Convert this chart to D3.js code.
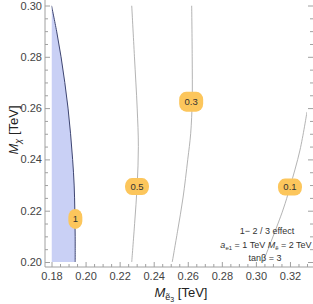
<!DOCTYPE html>
<html>
<head>
<meta charset="utf-8">
<script src="https://cdn.jsdelivr.net/npm/d3@7"></script>
<style>
  body { margin: 0; background: #fff; }
  svg { display: block; font-family: "Liberation Sans", Arial, sans-serif; }
</style>
</head>
<body>
<script>
// contour values and the points, [M_e3, M_chi] in TeV
const levels = [1, 0.5, 0.3, 0.1];
const contour1 = [[0.1800, 0.300], [0.1830, 0.290], [0.1856, 0.280], [0.1878, 0.270], [0.1897, 0.260],
  [0.1912, 0.250], [0.1924, 0.240], [0.1933, 0.230], [0.1937, 0.220], [0.1939, 0.210], [0.1939, 0.200]];
const contour05 = [[0.2271, 0.300], [0.2287, 0.280], [0.2303, 0.260], [0.2310, 0.245],
  [0.2303, 0.230], [0.2288, 0.215], [0.2271, 0.200]];
const contour03 = [[0.2623, 0.300], [0.2626, 0.280], [0.2626, 0.263], [0.2617, 0.250],
  [0.2600, 0.240], [0.2572, 0.225], [0.2540, 0.212], [0.2509, 0.200]];
const contour01 = [[0.3300, 0.2585], [0.3259, 0.2437], [0.3200, 0.2292], [0.3159, 0.2203], [0.3042, 0.200]];
const contours = [contour1, contour05, contour03, contour01];
// label positions on the contours
const labelPos = [[0.1940, 0.2168], [0.2302, 0.2294], [0.2620, 0.2625], [0.3200, 0.2292]];

const xTicks = [0.18, 0.20, 0.22, 0.24, 0.26, 0.28, 0.30, 0.32];
const yTicks = [0.20, 0.22, 0.24, 0.26, 0.28, 0.30];
const notes = ["1\u2212 2 / 3  effect", "tan\u03b2 = 3"];

var width = 313, height = 304;
var svg = d3.select("body").append("svg").attr("width", width).attr("height", height);

var x = d3.scaleLinear().domain([0.18, 0.33]).range([51.5, 307]);
var y = d3.scaleLinear().domain([0.20, 0.30]).range([262, 5.5]);

svg.append("clipPath").attr("id", "clip").append("rect")
  .attr("x", x(0.18)).attr("y", y(0.30)).attr("width", x(0.33) - x(0.18)).attr("height", y(0.20) - y(0.30));

var plot = svg.append("g").attr("clip-path", "url(#clip)");
var line = d3.line().x(d => x(d[0])).y(d => y(d[1])).curve(d3.curveCatmullRom);

// shaded region left of the "1" contour
var area = [[0.18, 0.20]].concat(contour1.slice().reverse()).concat([[0.18, 0.30]]);
plot.append("path")
  .attr("d", d3.line().x(d => x(d[0])).y(d => y(d[1])).curve(d3.curveLinear)(
    [[0.18, 0.30]].concat(contour1).concat([[0.18, 0.20]])))
  .attr("fill", "#c9d0f5").attr("stroke", "none");

plot.selectAll(".contour")
  .data(contours)
  .enter()
  .append("path")
  .attr("class", "contour")
  .attr("d", line)
  .attr("fill", "none")
  .attr("stroke", (d, i) => i === 0 ? "#3d4470" : "#aaaaaa")
  .attr("stroke-width", (d, i) => i === 0 ? 1 : 0.9);

// contour labels
var lab = svg.selectAll(".lab")
  .data(levels)
  .enter()
  .append("g")
  .attr("class", "lab")
  .attr("transform", (d, i) => "translate(" + x(labelPos[i][0]) + "," + y(labelPos[i][1]) + ")");
lab.append("rect")
  .attr("x", d => d === 1 ? -7 : -12)
  .attr("y", (d, i) => i === 0 ? -10 : (i === 2 ? -10 : -8.5))
  .attr("width", d => d === 1 ? 14 : 24)
  .attr("height", (d, i) => i === 0 || i === 2 ? 20 : 17)
  .attr("rx", 7).attr("ry", 8)
  .attr("fill", "#fcc65c");
lab.append("text")
  .attr("text-anchor", "middle").attr("dy", "0.35em")
  .attr("font-size", 9.5).attr("fill", "#333")
  .text(d => String(d));

// axes, offset from the plot region as in the original
var axisColor = "#a0a0a0", textColor = "#444";
var minorX = d3.range(0.18, 0.3301, 0.005).filter(v => !xTicks.some(t => Math.abs(t - v) < 1e-6));
var minorY = d3.range(0.20, 0.3001, 0.005).filter(v => !yTicks.some(t => Math.abs(t - v) < 1e-6));

function styleAxis(g) {
  g.select(".domain").remove();
  g.selectAll("line").attr("stroke", axisColor);
  g.selectAll("text").attr("fill", textColor).attr("font-size", 11);
}

svg.append("g").attr("transform", "translate(0,267)")
  .call(d3.axisBottom(x).tickValues(xTicks).tickFormat(d3.format(".2f")).tickSizeInner(-5).tickPadding(5))
  .call(styleAxis);
svg.append("g").attr("transform", "translate(0,267)")
  .call(d3.axisBottom(x).tickValues(minorX).tickFormat("").tickSizeInner(-3))
  .call(styleAxis);
svg.append("g").attr("transform", "translate(45,0)")
  .call(d3.axisLeft(y).tickValues(yTicks).tickFormat(d3.format(".2f")).tickSizeInner(-5).tickPadding(3))
  .call(styleAxis);
svg.append("g").attr("transform", "translate(45,0)")
  .call(d3.axisLeft(y).tickValues(minorY).tickFormat("").tickSizeInner(-3))
  .call(styleAxis);
svg.append("g").attr("transform", "translate(313,0)")
  .call(d3.axisRight(y).tickValues(yTicks).tickFormat("").tickSizeInner(-5))
  .call(styleAxis);
svg.append("g").attr("transform", "translate(313,0)")
  .call(d3.axisRight(y).tickValues(minorY).tickFormat("").tickSizeInner(-3))
  .call(styleAxis);

svg.append("line").attr("x1", 45).attr("x2", 313).attr("y1", 267).attr("y2", 267)
  .attr("stroke", axisColor);
svg.append("line").attr("x1", 45).attr("x2", 45).attr("y1", 0).attr("y2", 267)
  .attr("stroke", axisColor);

// axis titles
var xt = svg.append("text").attr("x", 181).attr("y", 297).attr("text-anchor", "middle")
  .attr("font-size", 13).attr("fill", "#222");
xt.append("tspan").attr("font-style", "italic").text("M");
xt.append("tspan").attr("font-size", 9).attr("dy", 3).text("\u1ebd");
xt.append("tspan").attr("font-size", 7).attr("dy", 2).text("3");
xt.append("tspan").attr("dy", -5).text(" [TeV]");

var yt = svg.append("text").attr("transform", "translate(18,130) rotate(-90)").attr("text-anchor", "middle")
  .attr("font-size", 13).attr("fill", "#222");
yt.append("tspan").attr("font-style", "italic").text("M");
yt.append("tspan").attr("font-size", 9).attr("dy", 3).attr("font-style", "italic").text("\u03c7");
yt.append("tspan").attr("dy", -3).text(" [TeV]");

// annotation
svg.append("text").attr("x", 267).attr("y", 234).attr("text-anchor", "middle")
  .attr("font-size", 9).attr("fill", "#333").text(notes[0]);
var n2 = svg.append("text").attr("x", 266).attr("y", 247.5).attr("text-anchor", "middle")
  .attr("font-size", 9).attr("fill", "#333");
n2.append("tspan").attr("font-style", "italic").text("a");
n2.append("tspan").attr("font-size", 6).attr("dy", 2).text("e1");
n2.append("tspan").attr("dy", -2).text(" = 1  TeV  ");
n2.append("tspan").attr("font-style", "italic").text("M");
n2.append("tspan").attr("font-size", 6).attr("dy", 2).text("\u1ebd");
n2.append("tspan").attr("dy", -2).text(" = 2  TeV");
svg.append("text").attr("x", 265).attr("y", 261).attr("text-anchor", "middle")
  .attr("font-size", 9).attr("fill", "#333").text(notes[1]);
</script>
</body>
</html>
